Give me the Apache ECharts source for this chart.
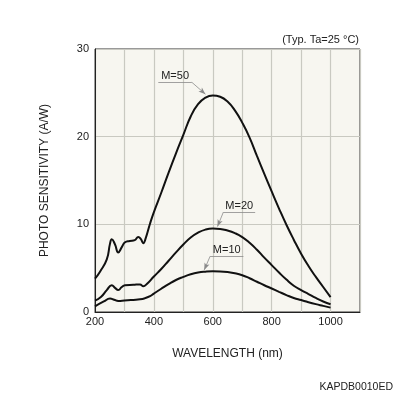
<!DOCTYPE html>
<html>
<head>
<meta charset="utf-8">
<script src="https://cdn.jsdelivr.net/npm/echarts@6/dist/echarts.min.js"></script>
<style>
  html, body { margin: 0; padding: 0; background: #fff; }
  #chart { width: 396px; height: 396px; }
</style>
</head>
<body>
<div id="chart"></div>
<script>
// wavelength (nm) / photo sensitivity (A/W)
const m50X = [200, 217, 240, 251, 257, 268, 279, 291, 302, 318, 335, 347, 356, 364, 372, 387, 400, 425, 450, 475, 500, 525, 550, 575, 600, 625, 650, 675, 700, 725, 750, 775, 800, 825, 850, 875, 900, 925, 950, 975, 1000];
const m50Y = [3.8, 4.6, 6.0, 7.8, 8.3, 7.7, 6.8, 7.4, 7.95, 8.1, 8.2, 8.55, 8.3, 7.85, 8.4, 10.1, 11.4, 13.6, 15.9, 18.1, 20.2, 22.3, 23.7, 24.45, 24.7, 24.55, 24.0, 23.0, 21.6, 19.9, 17.8, 15.75, 13.75, 11.8, 9.95, 8.25, 6.65, 5.25, 4.0, 2.85, 1.7];

const m20X = [200, 220, 240, 257, 268, 279, 291, 302, 330, 353, 364, 376, 400, 425, 450, 475, 500, 525, 550, 575, 600, 625, 650, 675, 700, 725, 750, 775, 800, 825, 850, 875, 900, 925, 950, 975, 1000];
const m20Y = [1.3, 1.7, 2.5, 3.05, 2.75, 2.5, 2.85, 3.05, 3.1, 3.15, 2.95, 3.2, 4.05, 4.9, 5.85, 6.8, 7.7, 8.5, 9.05, 9.4, 9.52, 9.48, 9.3, 9.0, 8.55, 7.9, 7.1, 6.2, 5.35, 4.5, 3.7, 3.0, 2.5, 2.05, 1.6, 1.2, 0.88];

const m10X = [200, 230, 251, 265, 279, 300, 330, 353, 370, 387, 400, 425, 450, 475, 500, 525, 550, 575, 600, 625, 650, 675, 700, 725, 750, 775, 800, 825, 850, 875, 900, 925, 950, 975, 1000];
const m10Y = [0.65, 1.2, 1.53, 1.4, 1.26, 1.3, 1.38, 1.45, 1.58, 1.8, 2.1, 2.65, 3.18, 3.65, 4.0, 4.3, 4.5, 4.6, 4.64, 4.62, 4.55, 4.42, 4.2, 3.85, 3.45, 3.05, 2.68, 2.3, 1.93, 1.6, 1.36, 1.12, 0.9, 0.7, 0.5];

const xTicks = [200, 400, 600, 800, 1000];
const yTicks = [0, 10, 20, 30];

// callouts: [label, underline start, underline end, arrow tip]
const m50Note = ['M=50', [415, 26.2], [529, 26.2], [575, 24.85]];
const m20Note = ['M=20', [744, 11.4], [636, 11.4], [616, 9.75]];
const m10Note = ['M=10', [704, 6.36], [591, 6.36], [571, 4.8]];

function pairs(xs, ys) {
  return xs.map((x, i) => [x, ys[i]]);
}

function callout(note) {
  const lineGrey = { color: '#8a8a8a', width: 0.8, type: 'solid' };
  return {
    silent: true,
    animation: false,
    symbol: 'none',
    data: [
      [
        { coord: note[1], symbol: 'none', lineStyle: lineGrey,
          label: { show: true, position: 'insideMiddleTop', formatter: note[0], distance: 1,
                   color: '#222', fontSize: 11, fontFamily: 'Liberation Sans' } },
        { coord: note[2], symbol: 'none' }
      ],
      [
        { coord: note[2], symbol: 'none', lineStyle: lineGrey, label: { show: false } },
        { coord: note[3], symbol: 'arrow', symbolSize: [4, 7] }
      ]
    ]
  };
}

function curve(name, xs, ys, note) {
  return {
    name: name,
    type: 'line',
    data: pairs(xs, ys),
    smooth: 0.5,
    showSymbol: false,
    lineStyle: { color: '#111', width: 2 },
    animation: false,
    markLine: callout(note)
  };
}

const chart = echarts.init(document.getElementById('chart'));
chart.setOption({
  backgroundColor: '#fff',
  textStyle: { fontFamily: 'Liberation Sans' },
  title: [
    { text: '(Typ. Ta=25 °C)', right: 37, top: 34, padding: 0,
      textStyle: { fontSize: 11, fontWeight: 'normal', color: '#222' } },
    { text: 'KAPDB0010ED', right: 3, top: 382, padding: 0,
      textStyle: { fontSize: 10.5, fontWeight: 'normal', color: '#222' } }
  ],
  grid: {
    left: 95, right: 36, top: 49, bottom: 84,
    show: true, backgroundColor: '#f7f6f0', borderColor: '#333', borderWidth: 1
  },
  xAxis: {
    type: 'value', min: 200, max: 1100, interval: 100,
    name: 'WAVELENGTH (nm)', nameLocation: 'middle', nameGap: 36,
    nameTextStyle: { fontSize: 12, color: '#222' },
    axisLine: { lineStyle: { color: '#222' } },
    axisTick: { show: false },
    axisLabel: {
      color: '#222', fontSize: 11, margin: 4,
      formatter: v => xTicks.includes(v) ? String(v) : ''
    },
    splitLine: { lineStyle: { color: '#c9c9c1', width: 1.2 } }
  },
  yAxis: {
    type: 'value', min: 0, max: 30, interval: 10,
    name: 'PHOTO SENSITIVITY (A/W)', nameLocation: 'middle', nameGap: 44,
    nameTextStyle: { fontSize: 12, color: '#222' },
    axisLine: { show: true, lineStyle: { color: '#222' } },
    axisTick: { show: false },
    axisLabel: {
      color: '#222', fontSize: 11, margin: 6,
      formatter: v => yTicks.includes(v) ? String(v) : ''
    },
    splitLine: { lineStyle: { color: '#c9c9c1', width: 1.2 } }
  },
  series: [
    curve('M=50', m50X, m50Y, m50Note),
    curve('M=20', m20X, m20Y, m20Note),
    curve('M=10', m10X, m10Y, m10Note)
  ]
});
</script>
</body>
</html>
